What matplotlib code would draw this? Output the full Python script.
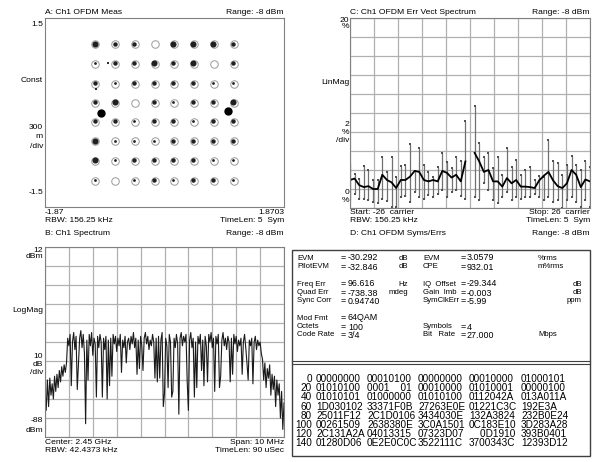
import numpy as np
import matplotlib.pyplot as plt

W, H = 595, 462
plt.rcParams['font.family'] = ['Liberation Sans', 'DejaVu Sans']
FS = 6.1

# ---- A: constellation ----
qam_levels = [-1.08, -0.77, -0.46, -0.15, 0.15, 0.46, 0.77, 1.08]
# how dark the cluster of measured symbols is at each point (rows top to bottom)
qam_blob = [
    [3, 2, 2, 0, 3, 3, 3, 2],
    [1, 2, 2, 3, 2, 3, 0, 2],
    [2, 1, 2, 2, 2, 2, 1, 1],
    [2, 3, 0, 2, 1, 2, 2, 3],
    [2, 2, 1, 2, 2, 1, 2, 2],
    [3, 1, 1, 1, 2, 2, 2, 2],
    [3, 1, 2, 2, 2, 2, 1, 1],
    [1, 0, 1, 2, 1, 2, 2, 1],
]
pilot_i = [-1.0, 0.99]
pilot_q = [0.0, 0.02]
stray_i = [-0.88, -1.07]
stray_q = [0.78, 0.37]

# ---- C: error vector spectrum (percent) ----
carriers = list(range(-26, 0)) + list(range(1, 27))
evm_mean = [2.95, 3.1, 2.4, 2.2, 2.3, 2.0, 2.0, 3.5, 2.95, 2.7, 2.1, 2.95, 2.95, 3.3,
            3.9, 3.8, 2.95, 2.8, 2.95, 2.8, 3.9, 3.7, 3.2, 3.5, 2.8, 4.9,
            5.8, 4.9, 3.8, 4.0, 2.8, 2.8, 2.25, 3.15, 2.6, 2.95, 2.25, 2.25, 2.2,
            2.1, 2.9, 3.4, 3.8, 2.9, 2.3, 2.1, 2.6, 4.0, 3.5, 2.2, 3.0, 2.8]
evm_max = [4.7, 3.6, 3.1, 4.4, 4.0, 3.0, 2.9, 5.4, 3.8, 5.4, 3.3, 4.4, 4.5, 6.7,
           3.9, 6.3, 4.5, 3.8, 3.3, 4.3, 5.8, 4.8, 4.2, 5.4, 4.9, 9.2,
           10.7, 6.8, 5.4, 5.75, 4.2, 5.4, 3.5, 6.3, 4.35, 5.1, 3.5, 4.0, 4.35,
           2.95, 3.4, 3.3, 7.2, 4.9, 4.7, 3.5, 4.5, 5.5, 4.5, 4.0, 4.9, 4.35]
evm_min = [0.84, 1.5, 0.9, 1.0, 0.84, 0.6, 0.5, 1.0, 0.7, 0.14, 0.14, 1.2, 1.3, 0.65,
           1.7, 1.2, 1.0, 1.4, 1.2, 1.5, 1.9, 1.2, 1.7, 1.9, 1.3, 1.0,
           1.2, 0.84, 2.6, 1.9, 0.84, 0.49, 1.2, 1.7, 0.84, 1.2, 1.0, 1.2, 1.2,
           1.5, 1.2, 0.84, 1.2, 0.67, 0.84, 0.05, 0.84, 1.2, 0.67, 0.14, 0.84, 0.14]

# ---- B: spectrum (dBm), -5..5 MHz around 2.45 GHz ----
spec_db = [
    -62, -74, -58, -72, -57, -66, -60, -68, -56, -64, -55, -62, -53, -59, -51, -56, -50, -54, -49,
    -36, -40, -34, -61, -38, -33, -42, -35, -63, -50, -36,
    -32, -41, -34, -44, -81, -37, -58, -34, -40, -33,
    -45, -36, -39, -67, -35, -41, -34, -38, -67, -36,
    -42, -35, -68, -37, -61, -36, -56, -34, -39, -35,
    -43, -36, -40, -34, -54, -37, -41, -35, -49, -38,
    -36, -42, -35, -39, -33, -41, -36, -55, -37, -52,
    -35, -40, -53, -36, -33, -39, -35, -42, -37, -40,
    -34, -38, -57, -36, -59, -35, -57, -37, -33, -72,
    -65, -36, -40, -62, -34, -38, -67, -64, -36, -41,
    -34, -39, -76, -36, -33, -40, -35, -38, -34, -59,
    -74, -37, -33, -41, -36, -67, -38, -62, -35, -39,
    -34, -53, -37, -61, -35, -40, -59, -34, -38, -33,
    -41, -36, -64, -35, -39, -34, -62, -56, -37, -33,
    -40, -36, -42, -35, -38, -59, -36, -55, -34, -39,
    -35, -43, -37, -40, -36, -55, -38, -34, -41, -49,
    -58, -37, -40, -36, -60, -38, -35, -42, -37, -40,
    -38, -44,
    -47, -58, -49, -62, -52, -57, -50, -66, -55, -63, -56, -72, -58, -66, -60, -78, -64, -84, -70,
]
spec_mhz = np.linspace(-5, 5, len(spec_db))

# ---- D: symbol table ----
left_labels = ['EVM', 'PilotEVM', 'Freq Err', 'Quad Err', 'Sync Corr', 'Mod Fmt', 'Octets', 'Code Rate']
left_values = ['-30.292', '-32.846', '96.616', '-738.38', '0.94740', '64QAM', '100', '3/4']
left_units = ['dB', 'dB', 'Hz', 'mdeg', '', '', '', '']
left_rows = [258, 267, 284, 293, 301, 318, 327, 335]
right_labels = ['EVM', 'CPE', 'IQ  Offset', 'Gain  Imb', 'SymClkErr', 'Symbols', 'Bit   Rate']
right_values = ['3.0579', '932.01', '-29.344', '-0.003', '-5.99', '4', '27.000']
right_units = ['%rms', 'm%rms', 'dB', 'dB', 'ppm', '', 'Mbps']
right_rows = [258, 267, 284, 293, 301, 327, 335]
hex_index = ['0', '20', '40', '60', '80', '100', '120', '140']
hex_rows = [
    ['00000000', '00010100', '00000000', '00010000', '01000101'],
    ['01010100', '0001    01', '00010000', '01010001', '00000100'],
    ['01010101', '01000000', '01010100', '0112042A', '013A011A'],
    ['1D030102', '33371F0B', '27263E0E', '01221C3C', '192E3A'],
    ['25011F12', '2C1D0106', '3434030E', '132A3824', '232B0E24'],
    ['00261509', '2638380E', '3C0A1501', '0C183E10', '3D283A28'],
    ['2C131A2A', '04013315', '07323D07', '    0D1910', '393B0401'],
    ['01280D06', '0E2E0C0C', '3522111C', '3700343C', '12393D12'],
]

fig = plt.figure(figsize=(W / 100, H / 100), dpi=100)
fig.patch.set_facecolor('white')


def add_ax(x0, y0, x1, y1):
    return fig.add_axes([x0 / W, 1 - y1 / H, (x1 - x0) / W, (y1 - y0) / H])


def txt(x, y, s, ha='left', size=FS, **kw):
    fig.text(x / W, 1 - y / H, s, ha=ha, va='center', fontsize=size, **kw)


def style(ax):
    ax.tick_params(length=0, labelbottom=False, labelleft=False)
    for sp in ax.spines.values():
        sp.set_color('#808080')
        sp.set_linewidth(0.8)


# panel A
axA = add_ax(45, 18, 284, 207)
style(axA)
axA.set_xticks([])
axA.set_yticks([])
axA.set_xlim(-1.87, 1.8703)
axA.set_ylim(-1.5, 1.5)
blob_ms = {1: 2.0, 2: 3.2, 3: 4.4}
for r, row in enumerate(qam_blob):
    q = qam_levels[7 - r]
    for c, d in enumerate(row):
        i = qam_levels[c]
        axA.plot(i, q, 'o', mfc='none', mec='#9a9a9a', ms=5.4, mew=0.7)
        if d:
            axA.plot(i - 0.01, q + 0.01, 'o', color='#202020', ms=blob_ms[d], mew=0)
axA.plot(pilot_i, pilot_q, 'o', color='black', ms=6, mew=0)
axA.plot(stray_i, stray_q, 's', color='#303030', ms=1.8, mew=0)

txt(45, 12, 'A: Ch1 OFDM Meas')
txt(284, 12, 'Range: -8 dBm', ha='right')
txt(43, 24, '1.5', ha='right')
txt(43, 80, 'Const', ha='right')
txt(43, 127, '300', ha='right')
txt(43, 136, 'm', ha='right')
txt(43, 146, '/div', ha='right')
txt(43, 193, '-1.5', ha='right')
txt(45, 212, '-1.87')
txt(284, 212, '1.8703', ha='right')
txt(45, 221, 'RBW: 156.25 kHz')
txt(284, 221, 'TimeLen: 5  Sym', ha='right')

# panel C
axC = add_ax(350, 18, 590, 208)
style(axC)
axC.set_xlim(-26, 26)
axC.set_ylim(0, 20)
axC.set_xticks(np.linspace(-26, 26, 11))
axC.set_yticks(np.arange(0, 21, 2))
axC.grid(True, color='#b0b0b0', lw=0.9)
axC.set_axisbelow(True)
axC.vlines(carriers, evm_min, evm_max, color='#707070', lw=0.9)
axC.plot(carriers, evm_max, 's', color='#505050', ms=1.8, mew=0)
axC.plot(carriers, evm_min, 's', color='#505050', ms=1.8, mew=0)
axC.plot(carriers[:26], evm_mean[:26], color='black', lw=1.3)
axC.plot(carriers[26:], evm_mean[26:], color='black', lw=1.3)

txt(350, 12, 'C: Ch1 OFDM Err Vect Spectrum')
txt(590, 12, 'Range: -8 dBm', ha='right')
txt(349, 21, '20', ha='right')
txt(349, 27, '%', ha='right')
txt(349, 82, 'LinMag', ha='right')
txt(349, 124, '2', ha='right')
txt(349, 132, '%', ha='right')
txt(349, 141, '/div', ha='right')
txt(349, 192, '0', ha='right')
txt(349, 201, '%', ha='right')
txt(350, 213, 'Start: -26  carrier')
txt(590, 213, 'Stop: 26  carrier', ha='right')
txt(350, 221, 'RBW: 156.25 kHz')
txt(590, 221, 'TimeLen: 5  Sym', ha='right')

# panel B
axB = add_ax(45, 247, 284, 437)
style(axB)
axB.set_xlim(-5, 5)
axB.set_ylim(-88, 12)
axB.set_xticks(np.linspace(-5, 5, 11))
axB.set_yticks(np.arange(-88, 13, 10))
axB.grid(True, color='#b0b0b0', lw=0.9)
axB.set_axisbelow(True)
axB.plot(spec_mhz, spec_db, color='#1a1a1a', lw=0.8)

txt(45, 234, 'B: Ch1 Spectrum')
txt(284, 234, 'Range: -8 dBm', ha='right')
txt(43, 251, '12', ha='right')
txt(43, 257, 'dBm', ha='right')
txt(43, 310, 'LogMag', ha='right')
txt(43, 356, '10', ha='right')
txt(43, 364, 'dB', ha='right')
txt(43, 373, '/div', ha='right')
txt(43, 420, '-88', ha='right')
txt(43, 431, 'dBm', ha='right')
txt(45, 442, 'Center: 2.45 GHz')
txt(284, 442, 'Span: 10 MHz', ha='right')
txt(45, 451, 'RBW: 42.4373 kHz')
txt(284, 451, 'TimeLen: 90 uSec', ha='right')

# panel D
axD = fig.add_axes([0, 0, 1, 1])
axD.set_xlim(0, W)
axD.set_ylim(H, 0)
axD.axis('off')
axD.add_patch(plt.Rectangle((292, 250), 298, 206, fill=False, ec='#404040', lw=1))
axD.plot([292, 590], [361, 361], color='#404040', lw=0.8)
axD.plot([292, 590], [364, 364], color='#404040', lw=0.8)

LS = 5.6   # labels
DS = 6.4   # values
txt(350, 234, 'D: Ch1 OFDM Syms/Errs')
txt(590, 234, 'Range: -8 dBm', ha='right')
for lab, val, unit, y in zip(left_labels, left_values, left_units, left_rows):
    txt(297, y, lab, size=LS)
    txt(341, y, '=', size=DS)
    txt(348, y, val, size=DS)
    txt(408, y, unit, ha='right', size=LS)
for lab, val, unit, y in zip(right_labels, right_values, right_units, right_rows):
    txt(423, y, lab, size=LS)
    txt(461, y, '=', size=DS)
    txt(467, y, val, size=DS)
    if unit in ('dB', 'ppm'):
        txt(582, y, unit, ha='right', size=LS)
    else:
        txt(538, y, unit, size=LS)

HS = 7.2
hex_cols = [316, 367, 418, 469, 521]
for r, (idx, cells) in enumerate(zip(hex_index, hex_rows)):
    y = 379 + r * 9.2
    txt(312, y, idx, ha='right', size=HS)
    for x, cell in zip(hex_cols, cells):
        txt(x, y, cell, size=HS)

fig.savefig('out.png', dpi=100)
